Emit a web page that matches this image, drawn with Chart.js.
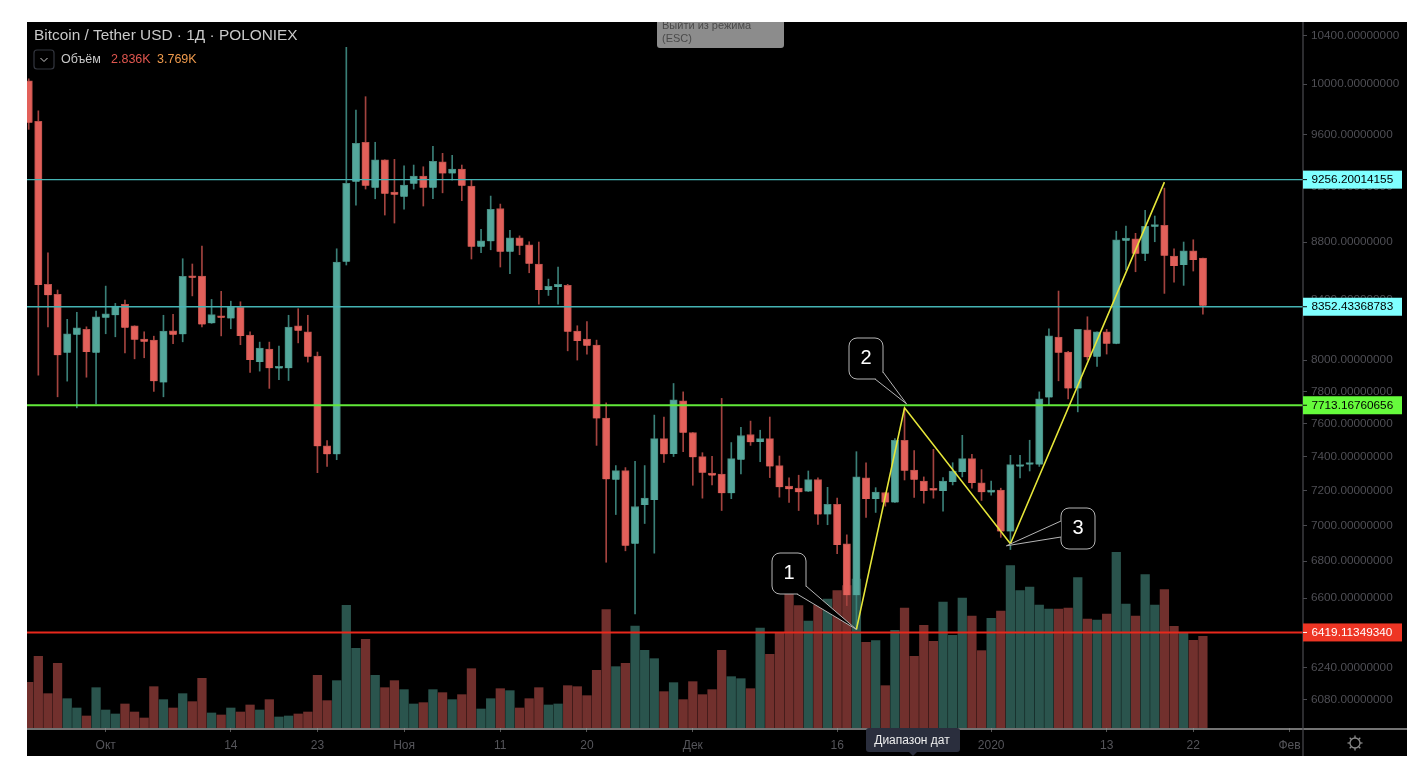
<!DOCTYPE html>
<html><head><meta charset="utf-8">
<style>html,body{margin:0;padding:0;background:#fff}canvas{display:block}</style>
<script src="https://cdn.jsdelivr.net/npm/chart.js@4"></script></head>
<body><canvas id="c" width="1428" height="782"></canvas>
<script>
const opens=[10026,9703,8505,8436,8047,8165,8201,8047,8278,8295,8368,8225,8137,8130,7857,8192,8168,8562,8562,8241,8292,8274,8348,8163,7987,8071,7946,7948,8225,8185,8026,7465,7413,8662,9240,9540,9195,9406,9164,9129,9225,9283,9195,9391,9303,9336,9208,8767,8806,9043,8732,8831,8781,8646,8466,8487,8498,8190,8137,8097,7633,7263,7316,6896,7115,7144,7508,7415,7741,7545,7399,7302,7296,7184,7381,7533,7488,7508,7346,7225,7213,7194,7263,7061,7119,6896,6615,7273,7150,7188,7130,7498,7320,7255,7206,7196,7249,7308,7387,7244,7188,7202,6965,7340,7352,7352,7762,8150,8052,7819,8198,8021,8185,8106,8810,8824,8718,8911,8921,8702,8639,8739,8688];
const closes=[9692,8500,8431,8032,8172,8211,8052,8285,8305,8357,8211,8132,8119,7865,8190,8165,8560,8550,8234,8299,8278,8353,8158,8000,8078,7948,7959,8216,8192,8021,7461,7413,8660,9229,9532,9211,9406,9151,9144,9215,9283,9195,9394,9303,9336,9211,8767,8810,9036,8732,8831,8774,8648,8466,8491,8505,8185,8125,8093,7631,7265,7316,6885,7107,7155,7508,7413,7747,7543,7395,7304,7287,7184,7387,7527,7486,7508,7341,7219,7207,7190,7263,7061,7119,6889,6615,7279,7150,7190,7130,7498,7316,7263,7196,7200,7255,7314,7387,7244,7190,7202,6965,7352,7352,7363,7753,8158,8047,7819,8201,8019,8185,8106,8817,8829,8718,8914,8921,8704,8632,8739,8674,8359];
const highs=[10042,9786,8725,8466,8268,8315,8218,8323,8493,8375,8397,8225,8185,8156,8295,8301,8683,8646,8772,8402,8457,8390,8386,8185,8117,8117,8091,8295,8339,8295,8052,7496,8753,10301,9792,9898,9540,9406,9409,9360,9366,9353,9509,9455,9440,9366,9258,8892,9134,9075,8885,8845,8803,8801,8541,8625,8505,8225,8252,8130,7728,7346,7334,7371,7346,7652,7640,7850,7797,7545,7423,7401,7756,7484,7577,7615,7559,7640,7403,7273,7289,7314,7273,7218,7155,6946,7429,7363,7216,7188,7508,7693,7435,7279,7443,7275,7363,7528,7413,7322,7255,7213,7407,7407,7498,7797,8205,8459,8056,8201,8285,8185,8201,8878,8916,8863,9029,8988,9193,8753,8801,8817,8688];
const lows=[9640,7903,8218,7766,7865,7697,7890,7722,8172,8152,8047,8008,8015,7800,7766,8106,8119,8426,8218,8241,8158,8205,8100,7920,7929,7819,7875,7869,8112,7987,7304,7341,7381,8639,9068,9186,9114,8995,8937,9038,9186,9061,9114,9158,9253,9100,8681,8725,8746,8625,8578,8711,8585,8370,8429,8370,8060,8000,8039,7467,6794,7061,6857,6516,7010,6844,7365,7400,7429,7230,7155,7232,7084,7152,7296,7467,7369,7275,7161,7130,7084,7194,7005,7003,6841,6560,6434,7044,7073,7109,7130,7261,7159,7126,7155,7080,7232,7279,7213,7142,7173,6932,6864,7273,7314,7341,7714,7867,7753,7672,8000,7959,8039,8106,8604,8592,8669,8803,8443,8520,8498,8597,8302];
const volumes=[1411,2215,1061,1998,906,618,371,1246,556,433,742,494,309,1277,876,618,1061,814,1535,464,402,618,494,711,556,876,340,371,433,494,1627,845,1463,3790,2462,2740,1627,1246,1463,1185,742,783,1185,1092,876,1030,1833,587,906,1215,1154,618,906,1246,711,742,1308,1277,999,1782,3657,1895,1998,3152,2400,2142,1123,1401,876,1432,1030,1185,2400,1586,1524,1215,3090,2276,2936,4182,3780,3306,3801,3986,4244,4398,4604,2647,2699,1308,3018,3708,2215,3172,2678,3893,2863,4017,3461,2390,3389,3615,5016,4244,4357,3801,3677,3677,3708,4645,3368,3337,3523,5428,3832,3461,4738,3801,4275,3142,2925,2709,2836];
const xTickIndex=[8,21,30,39,49,58,69,84,100,112,121,131];
const xTickLabels=['Окт','14','23','Ноя','11','20','Дек','16','2020','13','22','Фев'];
const yTicks=[10400,10000,9600,9200,8800,8400,8000,7800,7600,7400,7200,7000,6800,6600,6400,6240,6080];
const levelValues=[9256.20014155,8352.43368783,7713.16760656,6419.11349340];
const levelLabels=['9256.20014155','8352.43368783','7713.16760656','6419.11349340'];
const zigzagIndex=[86,91,102,118];
const zigzagPrice=[6435,7697,6896,9238];
const calloutLabels=['1','2','3'];
const titleText='Bitcoin / Tether USD · 1Д · POLONIEX';
const volumeName='Объём', volumeValue='2.836K', volumeAverage='3.769K';

const UP='#53a79b',DOWN='#e2605a',UPB='#47897f',DOWNB='#b9504b',UPW='#3a7f77',DOWNW='#a3433f',UPV='rgba(83,167,154,.5)',DOWNV='rgba(226,96,90,.5)';
const isUp=i=>closes[i]>=opens[i];
const idx=opens.map((_,i)=>i);
const bf='"Liberation Sans",Arial,sans-serif';
const levelStyles=[['#45b3b3',1.3],['#45b3b3',1.3],['#62e83a',2],['#e8281c',2]];
const tagStyles=[['#7fffff','#000'],['#7fffff','#000'],['#66fb3c','#000'],['#ee3524','#fff']];
const XMIN=-0.177,XMAX=132.4;
const levelSets=levelValues.map((v,k)=>({type:'line',order:2,label:'L'+k,yAxisID:'y',data:[{x:XMIN,y:v},{x:XMAX,y:v}],borderColor:levelStyles[k][0],borderWidth:levelStyles[k][1],pointRadius:0,tension:0}));

const deco={id:'deco',
 beforeDraw(ch){const c=ch.ctx;c.save();c.fillStyle='#fff';c.fillRect(0,0,1428,782);c.fillStyle='#000';c.fillRect(27,22,1380,734);c.restore();},
 afterDraw(ch){const c=ch.ctx,y=ch.scales.y,x=ch.scales.x;c.save();
  c.strokeStyle='#9a9a9a';c.lineWidth=1.6;c.beginPath();c.moveTo(27,729);c.lineTo(1407,729);c.stroke();
  c.strokeStyle='#4a4a4f';c.lineWidth=1.2;c.beginPath();c.moveTo(1303,22);c.lineTo(1303,756);c.stroke();
  c.textBaseline='middle';c.textAlign='left';c.font='11.75px '+bf;
  levelValues.forEach((v,k)=>{const py=y.getPixelForValue(v);
   c.fillStyle=tagStyles[k][0];c.fillRect(1303,py-9,99,18);
   c.strokeStyle=tagStyles[k][1];c.lineWidth=1;c.beginPath();c.moveTo(1303,py);c.lineTo(1307,py);c.stroke();
   c.fillStyle=tagStyles[k][1];c.fillText(levelLabels[k],1311.5,py+.5);});
  const boxes=[[772,553,34,41,[806,586],[797,594]],[849,338,34,41,[883,372],[875,379]],[1061,508,34,41,[1061,521],[1061,537]]];
  const tipOff=[[0,0],[2,-4],[-4,2]];
  boxes.forEach((b,k)=>{const tx=x.getPixelForValue(zigzagIndex[k])+tipOff[k][0],ty=y.getPixelForValue(zigzagPrice[k])+tipOff[k][1];
   c.fillStyle='#000';c.strokeStyle='#b5b5b5';c.lineWidth=1;
   c.beginPath();c.roundRect(b[0],b[1],b[2],b[3],8);c.fill();c.stroke();
   c.beginPath();c.moveTo(b[4][0],b[4][1]);c.lineTo(tx,ty);c.lineTo(b[5][0],b[5][1]);c.closePath();c.fill();
   c.beginPath();c.moveTo(b[4][0],b[4][1]);c.lineTo(tx,ty);c.lineTo(b[5][0],b[5][1]);c.stroke();
   c.fillStyle='#fff';c.font='20px '+bf;c.textAlign='center';c.textBaseline='middle';c.fillText(calloutLabels[k],b[0]+b[2]/2,b[1]+b[3]/2);});
  c.textAlign='left';c.textBaseline='middle';
  c.fillStyle='#c9c9c9';c.font='15.4px '+bf;c.fillText(titleText,34,36);
  c.strokeStyle='#33363f';c.lineWidth=1.2;c.beginPath();c.roundRect(34,50,20,19,3);c.stroke();
  c.strokeStyle='#ccc';c.lineWidth=1;c.beginPath();c.moveTo(40.5,58);c.lineTo(44,61.5);c.lineTo(47.5,58);c.stroke();
  c.font='12.5px '+bf;c.fillStyle='#c8c8c8';c.fillText(volumeName,61,59.5);
  c.fillStyle='#e0564f';c.fillText(volumeValue,111,59.5);
  c.fillStyle='#ef9a4c';c.fillText(volumeAverage,157,59.5);
  c.save();c.beginPath();c.rect(0,22,1428,760);c.clip();
  c.fillStyle='#8c8c8c';c.beginPath();c.roundRect(657,12,127,36,3);c.fill();
  c.fillStyle='#4a4a4a';c.font='11px '+bf;c.fillText('Выйти из режима',662,26);c.fillText('(ESC)',662,38.5);c.restore();
  c.fillStyle='#2a2e3d';c.beginPath();c.roundRect(866,728,94,24,3);c.fill();
  c.beginPath();c.moveTo(909,752);c.lineTo(913,756);c.lineTo(917,752);c.fill();
  c.fillStyle='#eee';c.font='12px '+bf;c.textAlign='center';c.fillText('Диапазон дат',912,740.5);
  c.strokeStyle='#8a8a8a';c.lineWidth=1.3;c.beginPath();c.arc(1355,743,5,0,Math.PI*2);c.stroke();
  for(let a=0;a<8;a++){const t=a*Math.PI/4;c.beginPath();c.moveTo(1355+5*Math.cos(t),743+5*Math.sin(t));c.lineTo(1355+7.5*Math.cos(t),743+7.5*Math.sin(t));c.stroke();}
  c.restore();}
};

new Chart(document.getElementById('c'),{
 type:'bar',
 data:{datasets:[
  {type:'bar',order:6,label:'Объём',yAxisID:'v',grouped:false,barThickness:8.6,data:idx.map(i=>({x:i,y:volumes[i]})),backgroundColor:idx.map(i=>isUp(i)?UPV:DOWNV)},
  {type:'bar',order:5,label:'wick',yAxisID:'y',grouped:false,barThickness:1,data:idx.map(i=>({x:i,y:[lows[i],highs[i]]})),backgroundColor:idx.map(i=>isUp(i)?UPW:DOWNW)},
  {type:'bar',order:4,label:'body',yAxisID:'y',grouped:false,barThickness:7.4,minBarLength:2,borderWidth:1,data:idx.map(i=>({x:i,y:[opens[i],closes[i]]})),backgroundColor:idx.map(i=>isUp(i)?UP:DOWN),borderColor:idx.map(i=>isUp(i)?UPB:DOWNB)},
  ...levelSets,
  {type:'line',order:1,label:'zigzag',yAxisID:'y',data:zigzagIndex.map((v,k)=>({x:v,y:zigzagPrice[k]})),borderColor:'#e6e639',borderWidth:1.6,pointRadius:0,tension:0}
 ]},
 options:{responsive:false,animation:false,devicePixelRatio:1,
  layout:{padding:{left:27,top:22,right:21,bottom:26}},
  plugins:{legend:{display:false},tooltip:{enabled:false}},
  scales:{
   x:{type:'linear',min:XMIN,max:XMAX,offset:false,
    afterBuildTicks:s=>{s.ticks=xTickIndex.map(value=>({value}))},
    afterFit:s=>{s.height=28},
    border:{display:false},
    grid:{offset:false,drawOnChartArea:false,drawTicks:true,tickLength:4,color:'#555'},
    ticks:{autoSkip:false,maxRotation:0,padding:6,color:'#55555a',font:{family:bf,size:12},callback:v=>xTickLabels[xTickIndex.indexOf(v)]}},
   y:{type:'logarithmic',position:'right',min:5942,max:10514,
    afterBuildTicks:s=>{s.ticks=yTicks.map(value=>({value}))},
    afterFit:s=>{s.width=104},
    border:{display:false},
    grid:{drawOnChartArea:false,drawTicks:true,tickLength:4,color:'#4a4a4f'},
    ticks:{autoSkip:false,padding:4,color:'#4f4f55',font:{family:bf,size:11.75},callback:v=>v.toFixed(8)}},
   v:{type:'linear',display:false,min:0,max:21815}
  }},
 plugins:[deco]
});
</script></body></html>
